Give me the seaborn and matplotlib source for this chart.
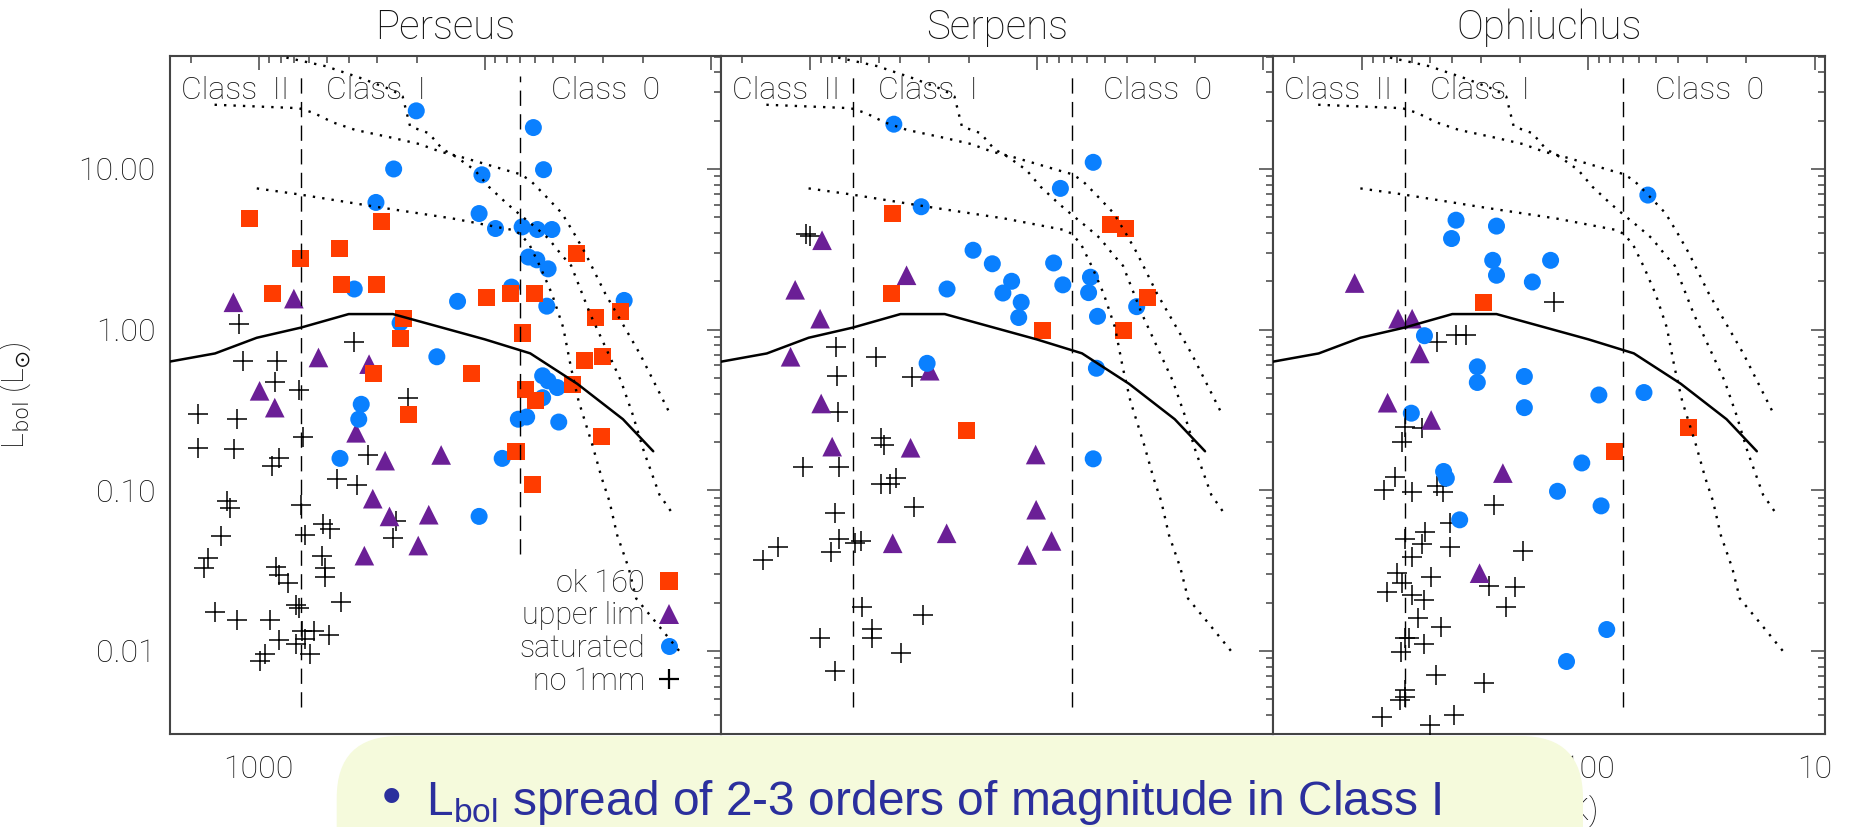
import numpy as np
import pandas as pd
import matplotlib
matplotlib.use("Agg")
import matplotlib.pyplot as plt
import seaborn as sns
from matplotlib.lines import Line2D
from matplotlib.patches import FancyBboxPatch
from matplotlib.ticker import FixedLocator, LogLocator, FuncFormatter, NullFormatter

# ---------------------------------------------------------------- data
regions = ["Perseus", "Serpens", "Ophiuchus"]
categories = ["ok 160", "upper lim", "saturated", "no 1mm"]

# (T_bol [K], L_bol [L_sun]) per region and 160 micron status
per_ok160 = [(1094, 4.92), (656, 2.79), (869, 1.69), (437, 3.19), (285, 4.69), (431, 1.90), (300, 1.90),
             (229, 1.18), (237, 0.875), (311, 0.533), (115, 0.533), (98.6, 1.59), (77.3, 1.69), (60.3, 1.69),
             (68.4, 0.953), (39.2, 2.97), (32.4, 1.19), (25.2, 1.30), (36.4, 0.64), (30.2, 0.678),
             (41.1, 0.457), (66.2, 0.426), (59.4, 0.36), (218, 0.297), (72.8, 0.174), (61.8, 0.108),
             (30.6, 0.216)]
per_upper = [(1294, 1.48), (699, 1.56), (544, 0.671), (325, 0.61), (991, 0.416), (849, 0.327),
             (371, 0.228), (276, 0.153), (156, 0.166), (313, 0.0887), (264, 0.0688), (177, 0.0705),
             (341, 0.0392), (197, 0.0453)]
per_sat = [(201, 23.0), (61, 18.1), (253, 10.0), (55, 9.9), (103, 9.2), (303, 6.19), (106, 5.28),
           (89.7, 4.26), (68.4, 4.36), (58.6, 4.2), (50.5, 4.2), (64.1, 2.83), (58.9, 2.72), (52.5, 2.39),
           (378, 1.79), (132, 1.50), (76.2, 1.84), (53.2, 1.40), (24.2, 1.52), (237, 1.10), (163, 0.678),
           (55.5, 0.516), (52.5, 0.48), (47.8, 0.436), (55.5, 0.377), (352, 0.343), (361, 0.277),
           (71.1, 0.277), (65.3, 0.286), (47.1, 0.266), (437, 0.158), (83.8, 0.158), (106, 0.0688)]
per_no1mm = [(1223, 1.08), (378, 0.834), (1178, 0.634), (830, 0.64), (849, 0.475), (662, 0.42),
             (218, 0.378), (1864, 0.297), (1246, 0.277), (1864, 0.184), (1282, 0.18), (635, 0.214),
             (869, 0.141), (811, 0.158), (330, 0.167), (451, 0.118), (369, 0.108), (1375, 0.0861),
             (1343, 0.078), (647, 0.081), (627, 0.0528), (519, 0.0617), (484, 0.0575), (246, 0.0646),
             (255, 0.0504), (1468, 0.0516), (1675, 0.0378), (1738, 0.0327), (527, 0.0392), (507, 0.0327),
             (507, 0.029), (837, 0.0335), (811, 0.0297), (739, 0.0264), (431, 0.0202), (687, 0.0193),
             (662, 0.0184), (1560, 0.0174), (1252, 0.0156), (889, 0.0156), (641, 0.0133), (570, 0.0133),
             (491, 0.0125), (811, 0.0117), (627, 0.0118), (687, 0.011), (942, 0.0096), (986, 0.0087),
             (592, 0.0096)]

ser_ok160 = [(435, 5.28), (440, 1.69), (94.2, 0.986), (47.1, 4.51), (40.3, 4.26), (32.2, 1.59),
             (41.4, 0.986), (205, 0.236)]
ser_upper = [(889, 3.6), (1169, 1.77), (376, 2.18), (907, 1.17), (1225, 0.678), (297, 0.555),
             (897, 0.347), (802, 0.187), (361, 0.184), (433, 0.0468), (250, 0.054), (101, 0.167),
             (100.5, 0.0757), (85.9, 0.0484), (110, 0.0396)]
ser_sat = [(428, 19.0), (324, 5.82), (56.2, 11.0), (78.5, 7.57), (191, 3.12), (157, 2.57), (84.1, 2.6),
           (129, 2.0), (249, 1.79), (141, 1.69), (117, 1.48), (120, 1.19), (76.6, 1.90), (57.8, 2.12),
           (58.9, 1.70), (53.8, 1.21), (36.1, 1.39), (305, 0.617), (54.4, 0.575), (56.2, 0.157)]
ser_no1mm = [(1052, 3.96), (1010, 3.85), (774, 0.776), (514, 0.678), (766, 0.516), (354, 0.508),
             (757, 0.309), (490, 0.211), (471, 0.191), (1082, 0.140), (750, 0.140), (487, 0.109),
             (444, 0.109), (418, 0.120), (347, 0.079), (783, 0.072), (750, 0.0495), (809, 0.0415),
             (1395, 0.0446), (1626, 0.0368), (638, 0.0468), (597, 0.0484), (591, 0.0189), (533, 0.0138),
             (533, 0.012), (906, 0.012), (319, 0.0168), (397, 0.0097), (783, 0.0075)]

oph_ok160 = [(292, 1.48), (77, 0.174), (36, 0.245)]
oph_upper = [(1081, 1.95), (695, 1.17), (602, 1.17), (557, 0.711), (773, 0.351), (496, 0.274),
             (239, 0.128), (303, 0.0305)]
oph_sat = [(54.6, 6.88), (385, 4.8), (403, 3.69), (255, 4.41), (265, 2.7), (255, 2.18), (147, 2.7),
           (177, 1.98), (531, 0.917), (310, 0.587), (310, 0.469), (192, 0.511), (192, 0.327),
           (89.9, 0.392), (56.8, 0.406), (607, 0.302), (437, 0.131), (425, 0.119), (371, 0.0655),
           (107, 0.148), (137, 0.0986), (87.9, 0.080), (83, 0.0136), (125, 0.0086)]
oph_no1mm = [(142, 1.48), (467, 0.834), (385, 0.927), (348, 0.927), (646, 0.249), (545, 0.243),
             (667, 0.199), (719, 0.1216), (805, 0.1004), (603, 0.098), (468, 0.107), (440, 0.098),
             (261, 0.081), (408, 0.0624), (526, 0.0553), (646, 0.0496), (545, 0.0463), (408, 0.0442),
             (195, 0.0422), (603, 0.0384), (702, 0.0305), (667, 0.0264), (778, 0.0234), (497, 0.029),
             (603, 0.0223), (535, 0.0208), (276, 0.0252), (212, 0.025), (231, 0.0189), (569, 0.016),
             (447, 0.0141), (646, 0.012), (620, 0.012), (532, 0.011), (674, 0.0099), (472, 0.0071),
             (290, 0.0063), (646, 0.0057), (679, 0.00496), (646, 0.0052), (818, 0.0039), (392, 0.004),
             (500, 0.00347)]

# model tracks shared by all panels
track_a_t = [1567, 664, 570, 470, 374, 255, 195, 157, 128, 101, 76, 70, 63, 55, 45.6, 40, 36, 29.3, 20.6, 15.4]
track_a_l = [25.1, 23.9, 22.3, 19.5, 17.5, 15.6, 14.3, 12.8, 11.9, 10.8, 9.6, 9.3, 8.5, 7.0, 5.3, 3.9, 3.0,
             1.67, 0.705, 0.312]
track_b_t = [900, 747, 505, 356, 260, 231, 214, 177, 154, 134, 111, 96, 80, 70, 60, 52.4, 45.6, 41.5,
             34.2, 25, 22.2, 19.8, 16.9, 14.5]
track_b_l = [55, 49.2, 43.6, 36.9, 31.2, 28.3, 18.4, 16.7, 13.3, 11.9, 9.86, 7.75, 6.1, 5.2, 4.36, 3.7,
             2.9, 2.5, 1.25, 0.48, 0.297, 0.175, 0.094, 0.0688]
track_c_t = [1020, 664, 304, 139, 74.6, 70.3, 63.8, 56.8, 50.5, 45, 41.6, 38.5, 33.5, 30.4, 28.1, 26,
             23.1, 21.4, 17.6, 13.7]
track_c_l = [7.57, 6.95, 5.82, 4.92, 4.16, 3.96, 3.43, 2.45, 1.67, 1.03, 0.582, 0.36, 0.193, 0.119,
             0.0853, 0.0528, 0.0327, 0.0212, 0.0152, 0.00986]
boundary_t = [2500, 1560, 1020, 650, 400, 255, 100, 63, 39, 24.5, 18]
boundary_l = [0.631, 0.711, 0.89, 1.03, 1.25, 1.25, 0.87, 0.712, 0.46, 0.277, 0.175]

class_edges = [650, 70]
class_names = ["Class  II", "Class  I", "Class  0"]

xticks = [10, 100, 1000]
yticks = [0.01, 0.1, 1, 10]
# T_bol tick labels left uncovered by the call-out box in each panel
xtick_labels_shown = [[1000], [], [100, 10]]

# ---------------------------------------------------------------- table
groups = {
    "Perseus": (per_ok160, per_upper, per_sat, per_no1mm),
    "Serpens": (ser_ok160, ser_upper, ser_sat, ser_no1mm),
    "Ophiuchus": (oph_ok160, oph_upper, oph_sat, oph_no1mm),
}
rows = []
for reg in regions:
    for cat, pts in zip(categories, groups[reg]):
        for t, l in pts:
            rows.append((reg, cat, t, l))
df = pd.DataFrame(rows, columns=["region", "status", "tbol", "lbol"])

# ---------------------------------------------------------------- style
sns.set_theme(style="white")
plt.rcParams["font.family"] = ["Roboto", "DejaVu Sans"]
plt.rcParams["font.weight"] = "light"
plt.rcParams["axes.titleweight"] = "light"
plt.rcParams["axes.labelweight"] = "light"
plt.rcParams["mathtext.rm"] = "Liberation Sans"
plt.rcParams["mathtext.it"] = "Liberation Sans:italic"
plt.rcParams["mathtext.bf"] = "Liberation Sans:bold"

RED, PURPLE, BLUE = "#FF3C00", "#6B1F96", "#0A80FF"
INK = "#111111"
FRAME = "#444444"
styles = {
    "no 1mm": dict(marker="+", s=225, color="black", lw=1.1, z=3, filled=False),
    "upper lim": dict(marker="^", s=200, color=PURPLE, lw=0, z=4, filled=True),
    "saturated": dict(marker="o", s=150, color=BLUE, lw=0, z=5, filled=True),
    "ok 160": dict(marker="s", s=150, color=RED, lw=0, z=6, filled=True),
}
draw_order = ["no 1mm", "upper lim", "saturated", "ok 160"]


def tbol_formatter(shown):
    return FuncFormatter(lambda v, p: f"{v:g}" if any(np.isclose(v, s) for s in shown) else "")


W, H = 1851, 827
fig = plt.figure(figsize=(W / 100, H / 100), dpi=100)
left0, pw = 169.5, 551.8
top_px, bot_px = 55.7, 734.3

axes = []
for i, reg in enumerate(regions):
    ax = fig.add_axes([(left0 + i * pw) / W, 1 - bot_px / H, pw / W, (bot_px - top_px) / H])
    axes.append(ax)
    ax.set_xscale("log")
    ax.set_yscale("log")

    for cat in draw_order:
        st = styles[cat]
        sub = df[(df.region == reg) & (df.status == cat)]
        kw = dict(marker=st["marker"], s=st["s"], color=st["color"], linewidth=st["lw"],
                  zorder=st["z"], legend=False)
        if st["filled"]:
            kw["edgecolor"] = "none"
        sns.scatterplot(data=sub, x="tbol", y="lbol", ax=ax, **kw)

    # evolutionary tracks and the boundary curve
    for tt, ll in [(track_a_t, track_a_l), (track_b_t, track_b_l), (track_c_t, track_c_l)]:
        ax.plot(tt, ll, color="black", lw=1.7, linestyle=(0, (1, 3.0)), zorder=7)
    ax.plot(boundary_t, boundary_l, color="black", lw=1.8, zorder=7)

    # class boundaries
    ax.plot([class_edges[0]] * 2, [0.0045, 38], color="black", lw=1.0,
            linestyle=(0, (11, 6)), zorder=7)
    low = 0.04 if i == 0 else 0.0045
    ax.plot([class_edges[1]] * 2, [low, 38], color="black", lw=1.0,
            linestyle=(0, (11, 6)), zorder=7)

    for xf, name in zip([0.02, 0.284, 0.692], class_names):
        ax.text(xf, 0.949, name, transform=ax.transAxes, ha="left", va="center",
                fontsize=23, color=INK, zorder=8)

    ax.set_xlim(2480, 9.0)
    ax.set_ylim(0.00303, 50.7)

    ax.xaxis.set_major_locator(FixedLocator(xticks))
    ax.xaxis.set_minor_locator(LogLocator(base=10, subs=np.arange(2, 10)))
    ax.xaxis.set_major_formatter(tbol_formatter(xtick_labels_shown[i]))
    ax.xaxis.set_minor_formatter(NullFormatter())
    ax.yaxis.set_major_locator(FixedLocator(yticks))
    ax.yaxis.set_minor_locator(LogLocator(base=10, subs=np.arange(2, 10)))
    ax.yaxis.set_major_formatter(FuncFormatter(lambda v, p: f"{v:.2f}"))
    ax.yaxis.set_minor_formatter(NullFormatter())

    ax.tick_params(which="both", direction="in", top=True, right=True, color=FRAME,
                   width=1.1, labelcolor=INK, labelsize=23)
    ax.tick_params(which="major", length=10)
    ax.tick_params(which="minor", length=5)
    ax.tick_params(axis="x", pad=15)
    ax.tick_params(axis="y", pad=10)
    if i > 0:
        ax.tick_params(axis="y", labelleft=False)

    for sp in ax.spines.values():
        sp.set_color(FRAME)
        sp.set_linewidth(1.5)

    ax.set_title(reg, fontsize=29, color=INK, pad=12)
    ax.set_xlabel("")
    ax.set_ylabel("")

axes[2].set_xlabel(r"T$_{\rm bol}$ (K)", fontsize=22, color=INK, labelpad=6)
axes[0].set_ylabel(r"L$_{\rm bol}$ (L$_{\odot}$)", fontsize=22, color=INK)
axes[0].yaxis.set_label_coords(-0.247, 0.5)

handles = [Line2D([], [], linestyle="none", marker=styles[c]["marker"], color=styles[c]["color"],
                  markersize=np.sqrt(styles[c]["s"]), markeredgewidth=1.6 if c == "no 1mm" else 0)
           for c in categories]
axes[0].legend(handles, categories, loc="lower right", bbox_to_anchor=(0.9306, 0.057),
               markerfirst=False, frameon=False, fontsize=22, handlelength=0.9,
               handletextpad=0.35, labelspacing=0.12, borderpad=0, borderaxespad=0,
               numpoints=1, labelcolor=INK)

# summary call-out across the bottom
ov = fig.add_axes([0, 0, 1, 1], zorder=10)
ov.set_xlim(0, W)
ov.set_ylim(H, 0)
ov.axis("off")
ov.add_patch(FancyBboxPatch((336.7, 736), 1583 - 336.7, 250,
                            boxstyle="round,pad=0,rounding_size=62",
                            facecolor="#F5FADC", edgecolor="none"))
ov.text(391.7, 800, "•", fontsize=40, color="#2B2F9D", family="Liberation Sans",
        weight="normal", ha="center", va="center")
ov.text(426, 815, r"L$_{\mathrm{bol}}$ spread of 2-3 orders of magnitude in Class I",
        fontsize=34.5, color="#2B2F9D", family="Liberation Sans", weight="normal",
        math_fontfamily="custom", ha="left", va="baseline")

fig.savefig("out.png", dpi=100)
